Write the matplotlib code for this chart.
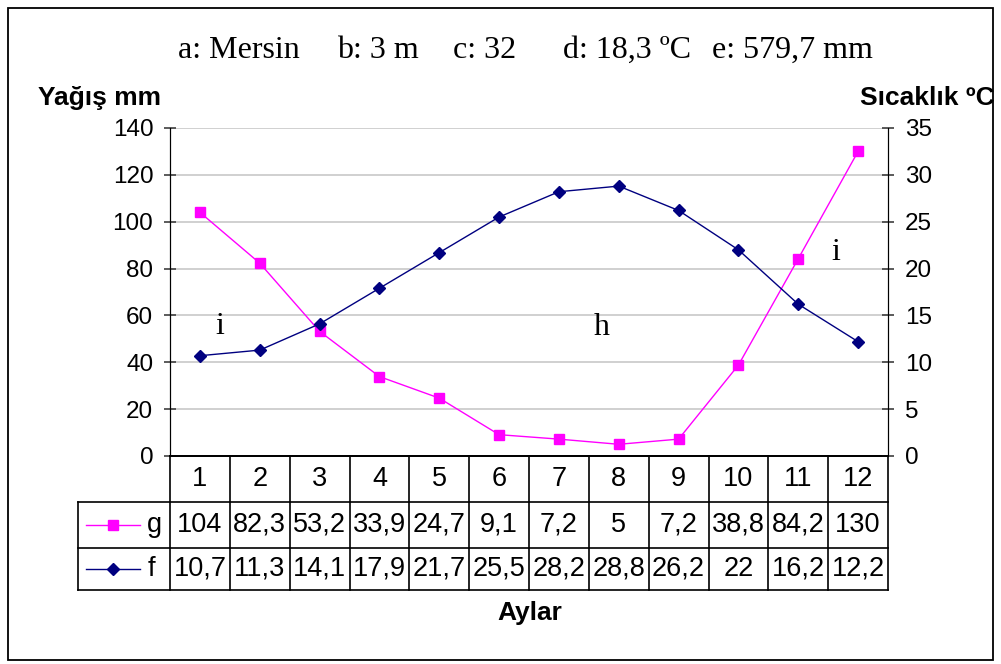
import matplotlib
matplotlib.use("Agg")
import matplotlib.pyplot as plt
import matplotlib.transforms as mtransforms
from matplotlib.lines import Line2D
from matplotlib.patches import Rectangle
import numpy as np

months = ["1", "2", "3", "4", "5", "6", "7", "8", "9", "10", "11", "12"]
precip = [104, 82.3, 53.2, 33.9, 24.7, 9.1, 7.2, 5, 7.2, 38.8, 84.2, 130]
temp = [10.7, 11.3, 14.1, 17.9, 21.7, 25.5, 28.2, 28.8, 26.2, 22, 16.2, 12.2]
precip_labels = ["104", "82,3", "53,2", "33,9", "24,7", "9,1", "7,2", "5", "7,2", "38,8", "84,2", "130"]
temp_labels = ["10,7", "11,3", "14,1", "17,9", "21,7", "25,5", "28,2", "28,8", "26,2", "22", "16,2", "12,2"]
header_parts = ["a: Mersin", "b: 3 m", "c: 32", "d: 18,3 ºC", "e: 579,7 mm"]
left_ticks = [0, 20, 40, 60, 80, 100, 120, 140]
right_ticks = [0, 5, 10, 15, 20, 25, 30, 35]

W, H = 1001, 664
fig = plt.figure(figsize=(W / 100, H / 100), dpi=100)
fx = lambda px: px / W
fy = lambda py: 1 - py / H

SANS = "Liberation Sans"
SERIF = "Liberation Serif"
PINK = "#FF00FF"
NAVY = "#000080"

# outer border
fig.add_artist(Rectangle((fx(8), fy(660)), fx(993) - fx(8), fy(8) - fy(660),
                         transform=fig.transFigure, fill=False, ec="black", lw=1.3))

ax = fig.add_axes([fx(170), fy(456), fx(888) - fx(170), fy(128) - fy(456)])
ax2 = ax.twinx()
x = np.arange(len(months))

ax.set_xlim(-0.5, len(months) - 0.5)
ax.set_ylim(0, 140)
ax.set_yticks(left_ticks)
ax2.set_ylim(0, 35)
ax2.set_yticks(right_ticks)
ax.set_xticks([])
ax.yaxis.grid(True, color="#C8C8C8", lw=1.2)
ax.set_axisbelow(True)
for a in (ax, ax2):
    a.spines["top"].set_visible(False)
    a.spines["left"].set_color("black")
    a.spines["right"].set_color("black")
    a.spines["bottom"].set_color("black")
    a.spines["bottom"].set_linewidth(1.3)
ax.tick_params(axis="y", direction="inout", length=8, width=1.2, color="#404040",
               labelsize=17.5, pad=8)
ax2.tick_params(axis="y", direction="inout", length=8, width=1.2, color="#404040",
                labelsize=17.5, pad=8)
for lab in ax.get_yticklabels() + ax2.get_yticklabels():
    lab.set_fontfamily(SANS)

ax.plot(x, precip, color=PINK, lw=1, marker="s", ms=7.5, mfc=PINK, mec=PINK, zorder=3)
ax2.plot(x, temp, color=NAVY, lw=1, marker="D", ms=6.5, mfc=NAVY, mec=NAVY, zorder=3)

# header and axis titles
header_x = [178, 337, 453, 563, 712]
for t, px in zip(header_parts, header_x):
    fig.text(fx(px), fy(50), t, family=SERIF, fontsize=23, ha="left", va="center")
fig.text(fx(38), fy(98), "Yağış mm", family=SANS, fontsize=19, weight="bold",
         ha="left", va="center")
fig.text(fx(995), fy(98), "Sıcaklık ºC", family=SANS, fontsize=19, weight="bold",
         ha="right", va="center")
fig.text(fx(530), fy(613), "Aylar", family=SANS, fontsize=19, weight="bold",
         ha="center", va="center")

# letters inside plot
fig.text(fx(220), fy(327), "i", family=SERIF, fontsize=23, ha="center", va="center")
fig.text(fx(602), fy(328), "h", family=SERIF, fontsize=23, ha="center", va="center")
fig.text(fx(836), fy(252), "i", family=SERIF, fontsize=23, ha="center", va="center")

# data table below the axes
tr = mtransforms.blended_transform_factory(ax.transData, ax.transAxes)
y_hdr_bot, y_g_bot, y_f_bot = -0.140, -0.280, -0.4085
x_left_col = -2.04
n = len(months)
lines = []
for k in range(n + 1):
    xb = k - 0.5
    lines.append(([xb, xb], [0, y_f_bot]))
lines.append(([x_left_col, x_left_col], [y_hdr_bot, y_f_bot]))
for yb in (y_hdr_bot, y_g_bot, y_f_bot):
    lines.append(([x_left_col, n - 0.5], [yb, yb]))
for xs, ys in lines:
    ax.add_line(Line2D(xs, ys, transform=tr, color="black", lw=1.2, clip_on=False))

rows = [(months, (0 + y_hdr_bot) / 2), (precip_labels, (y_hdr_bot + y_g_bot) / 2),
        (temp_labels, (y_g_bot + y_f_bot) / 2)]
for labels, yc in rows:
    for i, t in enumerate(labels):
        ax.text(x[i], yc, t, transform=tr, family=SANS, fontsize=19.5,
                ha="center", va="center", clip_on=False)

# legend keys in left column
for (col, mk, ms, name, yc) in [(PINK, "s", 7.5, "g", (y_hdr_bot + y_g_bot) / 2),
                                 (NAVY, "D", 6.5, "f", (y_g_bot + y_f_bot) / 2)]:
    ax.add_line(Line2D([-1.90, -1.0], [yc, yc], transform=tr, color=col, lw=1,
                       clip_on=False))
    ax.add_line(Line2D([-1.45], [yc], transform=tr, color=col, marker=mk, ms=ms,
                       mfc=col, mec=col, clip_on=False))
    ax.text(-0.88, yc, name, transform=tr, family=SANS, fontsize=19.5,
            ha="left", va="center", clip_on=False)

fig.savefig("out.png", dpi=100)
